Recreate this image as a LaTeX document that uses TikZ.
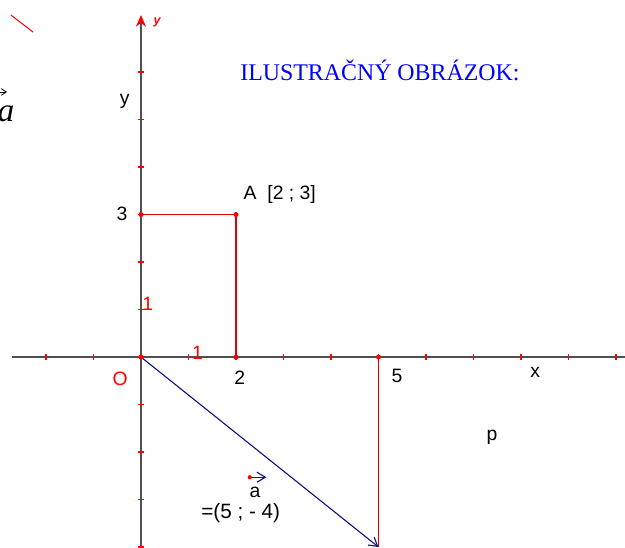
\documentclass[tikz,border=0pt]{standalone}
\usepackage{fontspec}
\setmainfont{Liberation Sans}
\newfontfamily\timesfont{Liberation Serif}
\usepackage{xcolor}
\usetikzlibrary{positioning,arrows.meta}

\definecolor{axisgray}{RGB}{80,80,80}
\definecolor{vecblue}{RGB}{20,20,140}

\begin{document}
\begin{tikzpicture}[
  axis/.style={draw=axisgray, line width=0.9pt},
  tick/.style={draw=red, line width=0.8pt},
  guide/.style={draw=red!90!black, line width=0.8pt},
  vec/.style={draw=vecblue, line width=0.7pt, -{Straight Barb[length=5pt,width=6pt]}},
  pt/.style={circle, fill=red, inner sep=0pt, minimum size=3pt},
  lab/.style={font=\fontsize{11.6}{13}\selectfont, inner sep=1pt},
  redlab/.style={lab, text=red}
]
  \useasboundingbox (-2.968,-4.0) rectangle (10.189,7.516);

  % axes
  \coordinate (xl) at (-2.72,0);
  \coordinate (xr) at (10.19,0);
  \coordinate (yb) at (0,-4.0);
  \coordinate (yt) at (0,7.2);
  \draw[axis] (xl) -- (xr);
  \draw[axis, -{Stealth[red,length=7pt,width=6pt]}] (yb) -- (yt);
  \foreach \i in {-2,...,10} {
    \draw[tick] (\i,-0.06) -- (\i,0.06);
  }
  \foreach \j in {-4,...,6} {
    \draw[tick] (-0.06,\j) -- (0.06,\j);
  }

  % points
  \coordinate (O) at (0,0);
  \coordinate (A) at (2,3);
  \coordinate (A3) at (0,3);
  \coordinate (A2) at (2,0);
  \coordinate (P5) at (5,0);
  \coordinate (P) at (5,-4);

  \draw[guide] (A3) -- (A) -- (A2);
  \draw[guide] (P5) -- (P);
  \draw[vec] (O) -- (P);

  \node[pt] (dO) at (O) {};
  \node[pt] (dA) at (A) {};
  \node[pt] (dA3) at (A3) {};
  \node[pt] (dA2) at (A2) {};
  \node[pt] (dP5) at (P5) {};

  % labels
  \node[lab] (ylab) at (-0.34,5.39) {y};
  \node[lab] (lab3) at (-0.40,3.01) {3};
  \node[lab, anchor=west] (labA) at (2.12,3.43) {A\ \ [2 ; 3]};
  \node[lab] (lab2) at (2.08,-0.44) {2};
  \node[lab] (lab5) at (5.39,-0.40) {5};
  \node[lab] (labx) at (8.30,-0.32) {x};
  \node[lab] (labp) at (7.39,-1.70) {p};
  \node[redlab] (labO) at (-0.44,-0.46) {O};
  \node[redlab] (one1) at (0.14,1.12) {1};
  \node[redlab] (one2) at (1.19,0.08) {1};
  \node[font=\fontsize{7.5}{8}\selectfont\bfseries\itshape, text=red] (ytop) at (0.34,7.05) {y};

  \node[font=\timesfont\fontsize{14.3}{16}\selectfont, text=blue] (title) at (5.03,6.03) {ILUSTRAČNÝ OBRÁZOK:};

  % left-edge remnants
  \coordinate (r1) at (-2.74,7.20);
  \coordinate (r2) at (-2.27,6.84);
  \draw[draw=red!80!purple, line width=0.6pt] (r1) -- (r2);
  \node[font=\timesfont\itshape\fontsize{20}{22}\selectfont] (biga) at (-2.84,5.12) {a};
  \coordinate (ba1) at (-3.0,5.58);
  \coordinate (ba2) at (-2.82,5.58);
  \draw[-{Straight Barb[length=3pt,width=4pt]}, line width=0.5pt] (ba1) -- (ba2);

  % vector label
  \coordinate (sa1) at (2.29,-2.53);
  \coordinate (sa2) at (2.64,-2.53);
  \draw[vec] (sa1) -- (sa2);
  \node[pt, minimum size=2.5pt] (sadot) at (sa1) {};
  \node[lab] (laba) at (2.40,-2.85) {a};
  \node[lab, font=\fontsize{12.4}{14}\selectfont] (labvec) at (2.10,-3.28) {=(5 ; - 4)};
\end{tikzpicture}
\end{document}
